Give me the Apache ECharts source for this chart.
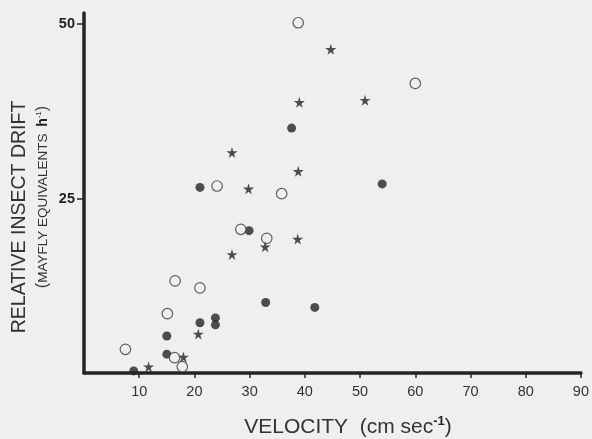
<!DOCTYPE html>
<html>
<head>
<meta charset="utf-8">
<script src="https://cdn.jsdelivr.net/npm/echarts@6/dist/echarts.min.js"></script>
<style>
  html, body { margin: 0; padding: 0; background: #efefee; }
  #chart { width: 592px; height: 439px; }
</style>
</head>
<body>
<div id="chart"></div>
<script>
// velocity (cm/s), drift (mayfly equivalents per hour)
const filledPts = [[21.0, 26.6], [37.6, 35.1], [54.0, 27.1], [29.9, 20.4], [32.9, 10.1], [41.8, 9.4],
                   [21.0, 7.2], [23.8, 7.9], [23.8, 6.9], [15.0, 5.3], [15.0, 2.7], [9.0, 0.3]]
const openPts   = [[38.8, 50.2], [60.0, 41.5], [35.8, 25.7], [24.1, 26.8], [28.4, 20.6], [33.1, 19.3],
                   [16.5, 13.2], [21.0, 12.2], [15.1, 8.5], [7.5, 3.4], [16.4, 2.2], [17.8, 0.9]]
const starPts   = [[44.7, 46.4], [39.0, 38.8], [50.9, 39.1], [26.8, 31.6], [38.8, 28.9], [29.8, 26.4],
                   [38.7, 19.2], [32.8, 18.1], [26.8, 17.0], [20.7, 5.6], [18.0, 2.3], [11.7, 0.9]]
const xTicks = [10, 20, 30, 40, 50, 60, 70, 80, 90]
const yTicks = [25, 50]
const xMax = 90
const yMax = 51.6

const INK = '#242424'
const BG = '#efefee'
const STAR = 'path://M50,0 L61,35 L98,35 L68,57 L79,91 L50,70 L21,91 L32,57 L2,35 L39,35 Z'

const chart = echarts.init(document.getElementById('chart'), null, { renderer: 'canvas' })

chart.setOption({
  backgroundColor: BG,
  animation: false,
  grid: { left: 84, right: 9, top: 13, bottom: 66 },
  xAxis: {
    type: 'value', min: 0, max: xMax, interval: 10,
    axisLine: { onZero: false, lineStyle: { color: INK, width: 3.5 } },
    axisTick: { length: 5, customValues: xTicks, lineStyle: { color: INK, width: 1.5 } },
    axisLabel: { customValues: xTicks, margin: 11, color: '#333', fontSize: 14.5, fontFamily: 'Liberation Sans' },
    splitLine: { show: false },
  },
  yAxis: {
    type: 'value', min: 0, max: yMax, interval: 25,
    axisLine: { onZero: false, lineStyle: { color: INK, width: 3.5 } },
    axisTick: { length: 7, customValues: yTicks, lineStyle: { color: INK, width: 1.5 } },
    axisLabel: { customValues: yTicks, margin: 9, color: '#222', fontSize: 14.5, fontWeight: 'bold', fontFamily: 'Liberation Sans' },
    splitLine: { show: false },
  },
  series: [
    { type: 'scatter', data: filledPts, symbol: 'circle', symbolSize: 9,
      itemStyle: { color: INK } },
    { type: 'scatter', data: openPts, symbol: 'circle', symbolSize: 10.5,
      itemStyle: { color: BG, borderColor: '#3a3a3a', borderWidth: 1.2 } },
    { type: 'scatter', data: starPts, symbol: STAR, symbolSize: 11,
      itemStyle: { color: INK } },
  ],
  graphic: [
    { type: 'text', x: 20, y: 217, rotation: Math.PI / 2,
      style: { text: 'RELATIVE INSECT DRIFT', fill: '#333', font: '19.5px "Liberation Sans"',
        align: 'center', verticalAlign: 'middle' } },
    { type: 'text', x: 43, y: 197, rotation: Math.PI / 2,
      style: { text: '{p|(}{s|MAYFLY EQUIVALENTS}  {b|h}{sup|-1}{p|)}', fill: '#333',
        align: 'center', verticalAlign: 'middle',
        rich: {
          p: { fontSize: 16, fontFamily: 'Liberation Sans', fill: '#333' },
          s: { fontSize: 13.5, fontFamily: 'Liberation Sans', fill: '#333' },
          b: { fontSize: 14, fontWeight: 'bold', fontFamily: 'Liberation Sans', fill: '#222' },
          sup: { fontSize: 8, fontFamily: 'Liberation Sans', fill: '#333', padding: [0, 0, 8, 0] },
        } } },
    { type: 'text', x: 348, y: 427,
      style: { text: '{t|VELOCITY  (cm sec}{sup|-1}{t|)}', fill: '#333',
        align: 'center', verticalAlign: 'middle',
        rich: {
          t: { fontSize: 21, fontFamily: 'Liberation Sans', fill: '#333' },
          sup: { fontSize: 13, fontWeight: 'bold', fontFamily: 'Liberation Sans', fill: '#222', padding: [0, 0, 12, 0] },
        } } },
  ],
})
</script>
</body>
</html>
